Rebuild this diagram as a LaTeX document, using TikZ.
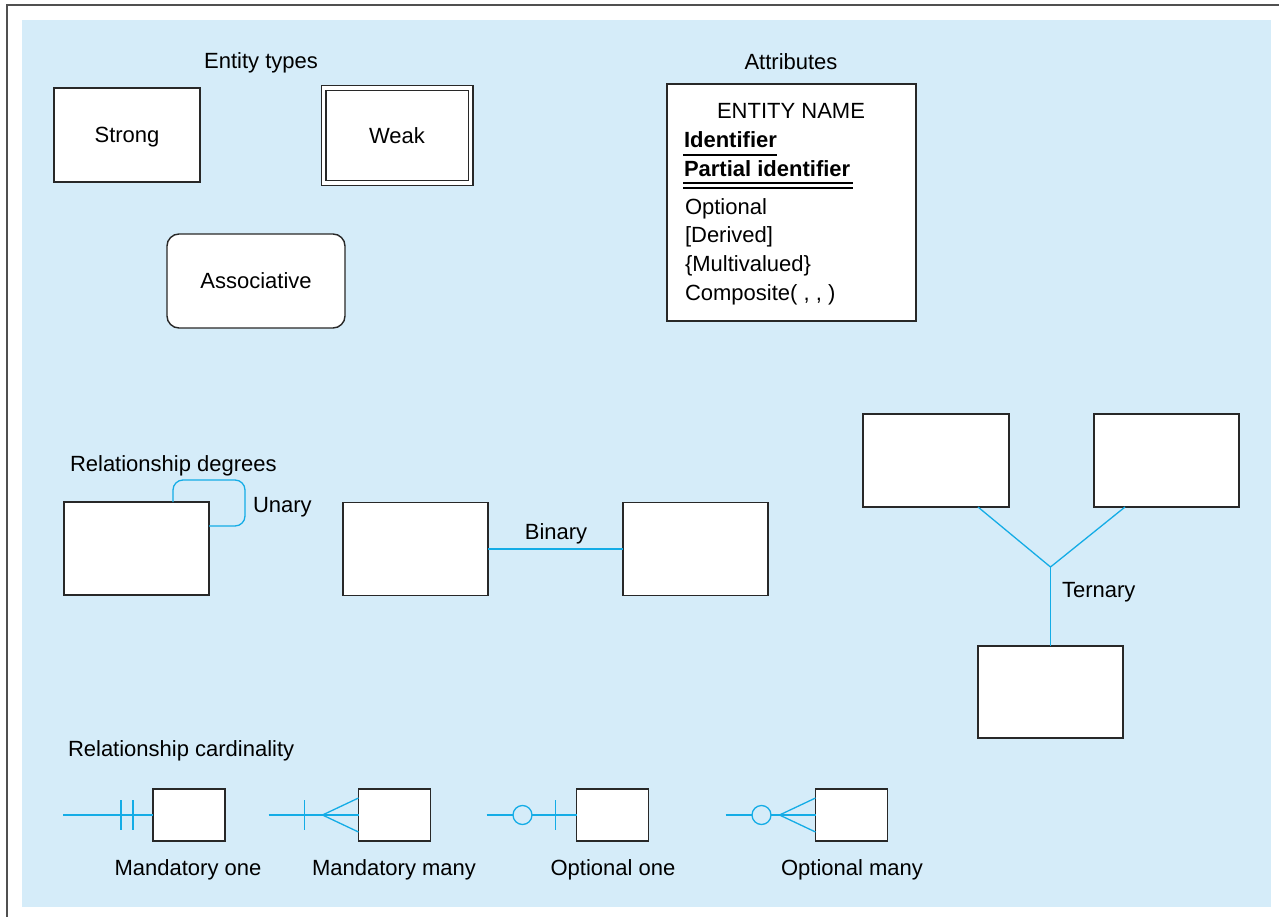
\documentclass[tikz,border=0pt]{standalone}
\usepackage{fontspec}
\setmainfont{Liberation Sans}
\usetikzlibrary{calc}
\definecolor{bgblue}{RGB}{213,236,249}
\definecolor{relblue}{RGB}{20,172,230}
\definecolor{framegray}{RGB}{80,80,80}
\definecolor{boxline}{RGB}{40,40,40}
\begin{document}
\begin{tikzpicture}[x=1pt,y=-1pt,
  every node/.style={font=\fontsize{22}{26}\selectfont, inner sep=0pt, outer sep=0pt},
  entbox/.style={draw=boxline, line width=1.4pt, fill=white, text height=15.75pt, text depth=0pt,
                 minimum width=145pt, minimum height=93pt},
  cardbox/.style={draw=boxline, line width=1.4pt, fill=white, minimum width=72pt, minimum height=52pt},
  rel/.style={draw=relblue, line width=1.3pt},
  ring/.style={circle, draw=relblue, line width=1.3pt, fill=bgblue, minimum size=19pt},
  ulineA/.style={draw=black, line width=1.1pt}
]
\useasboundingbox (0,0) rectangle (1279,917);
\fill[bgblue] (22,20) rectangle (1271,907);
\draw[framegray, line width=2pt] (7,917) -- (7,5) -- (1279,5);

% Entity types
\node[anchor=base] (lblent) at (261,69) {Entity types};
\node[entbox, minimum width=146pt, minimum height=94pt] (strong) at (127,135) {Strong};
\node[entbox, double=white, double distance=3.6pt, line width=1.2pt, minimum width=147pt, minimum height=95pt] (weak) at (397,135.5) {Weak};
\node[entbox, rounded corners=12pt, minimum width=178pt, minimum height=94pt] (assoc) at (256,281) {Associative};

% Attributes
\node[anchor=base] (lblattr) at (791,70) {Attributes};
\node[draw=boxline, line width=1.4pt, fill=white, minimum width=249pt, minimum height=237pt] (attrbox) at (791.5,202.5) {};
\node[anchor=base] (ename) at (791,119) {ENTITY NAME};
\node[anchor=base west, font=\fontsize{22}{26}\selectfont\bfseries] (idf) at (684,148) {Identifier};
\node[anchor=base west, font=\fontsize{22}{26}\selectfont\bfseries] (pidf) at (684,177) {Partial identifier};
\node[anchor=base west] (opt) at (685,215) {Optional};
\node[anchor=base west] (der) at (685,243) {[Derived]};
\node[anchor=base west] (mv) at (685,272) {\{Multivalued\}};
\node[anchor=base west] (comp) at (685,300) {Composite( , , )};
\draw[ulineA] ($(idf.base west)+(-1,7)$) -- ($(idf.base east)+(0,7)$);
\draw[ulineA] ($(pidf.base west)+(-1,6)$) -- ($(pidf.base east)+(3,6)$);
\draw[ulineA] ($(pidf.base west)+(-1,11)$) -- ($(pidf.base east)+(3,11)$);

% Relationship degrees
\node[anchor=base west] (lbldeg) at (70,471) {Relationship degrees};
\node[entbox] (un) at (136.5,548.5) {};
\coordinate (unhook) at ($(un.north east)+(0,24)$);
\draw[rel, rounded corners=10pt] ($(un.north west)+(109,0)$) -- ++(0,-22) -- ++(72,0) -- ++(0,46) -- (unhook);
\node[anchor=base west] (lblun) at (253,512) {Unary};

\node[entbox] (bl) at (415.5,549) {};
\node[entbox] (br) at (695.5,549) {};
\draw[rel] (bl) -- (br);
\node[anchor=base] (lblbin) at (556,539) {Binary};

\node[entbox, minimum width=146pt] (tl) at (936,460.5) {};
\node[entbox] (tr) at (1166.5,460.5) {};
\node[entbox, minimum height=92pt] (tb) at (1050.5,692) {};
\coordinate (tj) at (1050.5,567);
\draw[rel] ($(tl.south east)+(-31,0)$) -- (tj) -- ($(tr.south west)+(31,0)$);
\draw[rel] (tj) -- (tb.north);
\node[anchor=base west] (lblter) at (1062,597) {Ternary};

% Relationship cardinality
\node[anchor=base west] (lblcard) at (68,756) {Relationship cardinality};

\node[cardbox] (cb1) at (189,815) {};
\node[cardbox] (cb2) at (394.5,815) {};
\node[cardbox] (cb3) at (612.5,815) {};
\node[cardbox] (cb4) at (851.5,815) {};
\coordinate (s1) at ($(cb1.west)+(-90,0)$);
\coordinate (s2) at ($(cb2.west)+(-90,0)$);
\coordinate (s3) at ($(cb3.west)+(-90,0)$);
\coordinate (s4) at ($(cb4.west)+(-90,0)$);
\draw[rel] (s1) -- (cb1.west);
\draw[rel] (s2) -- (cb2.west);
\draw[rel] (s3) -- (cb3.west);
\draw[rel] (s4) -- (cb4.west);

% mandatory one
\draw[rel] ($(cb1.west)+(-32,-15)$) -- ($(cb1.west)+(-32,15)$);
\draw[rel] ($(cb1.west)+(-20,-15)$) -- ($(cb1.west)+(-20,15)$);
% mandatory many
\draw[rel] ($(cb2.west)+(-54,-15)$) -- ($(cb2.west)+(-54,15)$);
\draw[rel] ($(cb2.west)+(0,-17)$) -- ($(cb2.west)+(-36,0)$) -- ($(cb2.west)+(0,17)$);
% optional one
\node[ring] (o3) at ($(cb3.west)+(-54,0)$) {};
\draw[rel] ($(cb3.west)+(-21,-15)$) -- ($(cb3.west)+(-21,15)$);
% optional many
\node[ring] (o4) at ($(cb4.west)+(-54,0)$) {};
\draw[rel] ($(cb4.west)+(0,-17)$) -- ($(cb4.west)+(-36,0)$) -- ($(cb4.west)+(0,17)$);

\node[anchor=base] (lmo) at (188,875) {Mandatory one};
\node[anchor=base] (lmm) at (394,875) {Mandatory many};
\node[anchor=base] (loo) at (613,875) {Optional one};
\node[anchor=base] (lom) at (852,875) {Optional many};
\end{tikzpicture}
\end{document}
